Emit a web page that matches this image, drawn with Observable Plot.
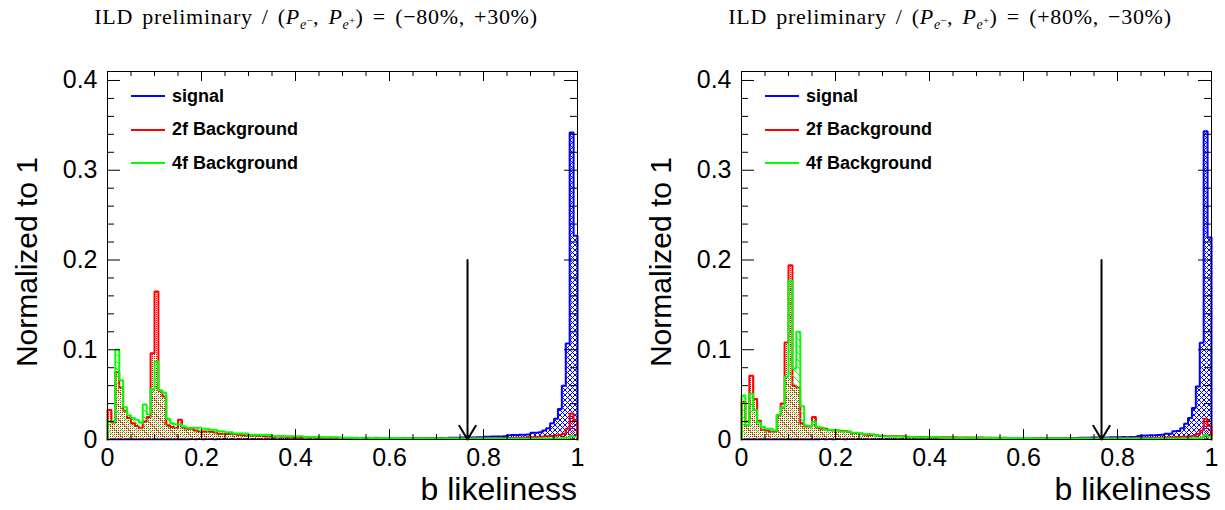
<!DOCTYPE html>
<html><head><meta charset="utf-8">
<script src="https://cdn.jsdelivr.net/npm/d3@7"></script>
<script src="https://cdn.jsdelivr.net/npm/@observablehq/plot@0.6"></script>
<style>
html,body{margin:0;padding:0;background:#fff;overflow:hidden}
#root{position:relative;width:1225px;height:510px;font-family:"Liberation Sans",Arial,sans-serif;color:#000}
.panel{position:absolute;top:0}
.title{position:absolute;top:4px;font-family:"Liberation Serif",serif;font-size:22px;letter-spacing:0.7px;word-spacing:3px;white-space:nowrap;transform:translateX(-50%)}
.title sub{font-size:14px;vertical-align:-5px;letter-spacing:0.3px}
.title sup{font-size:11px;vertical-align:5px}
.xlab{position:absolute;font-size:32px;white-space:nowrap;transform:translateX(-100%);top:471px}
.ylab{position:absolute;font-size:30px;white-space:nowrap;transform:translate(-50%,-50%) rotate(-90deg);top:262px}
.leg{position:absolute;display:flex;align-items:center;font-weight:bold;font-size:18px;white-space:nowrap;height:20px}
.leg span.sw{display:inline-block;width:34px;height:2px;margin-right:7px}
</style>
</head><body>
<svg width="0" height="0" style="position:absolute">
  <defs>
    <pattern id="pBlue" patternUnits="userSpaceOnUse" width="5" height="5">
      <path d="M0,0L5,5M5,0L0,5" stroke="#0000ff" stroke-width="1" fill="none"/>
    </pattern>
    <pattern id="pRed" patternUnits="userSpaceOnUse" width="2" height="2">
      <rect x="0" y="0" width="1" height="1" fill="#ff0000"/>
    </pattern>
    <pattern id="pGreen" patternUnits="userSpaceOnUse" width="7" height="7">
      <path d="M0,0L7,7M-1,6L1,8M6,-1L8,1" stroke="#00ff00" stroke-width="1" fill="none"/>
    </pattern>
  </defs>
</svg>
<div id="root"></div>
<script>
// ---------------- data ----------------
const nBins = 120;              // histogram bins on [0, 1]
const xTickLabels = [0, 0.2, 0.4, 0.6, 0.8, 1];
const xMinorTicks = [0.05,0.1,0.15,0.25,0.3,0.35,0.45,0.5,0.55,0.65,0.7,0.75,0.85,0.9,0.95];
const yTickLabels = [0, 0.1, 0.2, 0.3, 0.4];
const yMinorTicks = [0.02,0.04,0.06,0.08,0.12,0.14,0.16,0.18,0.22,0.24,0.26,0.28,0.32,0.34,0.36,0.38];
const seriesNames = ["signal", "2f Background", "4f Background"];
const seriesColors = ["#0000ff", "#ff0000", "#00ff00"];
const panelTitles = ["(\u221280%, +30%)", "(+80%, \u221230%)"];
const cutValue = [0.766, 0.766];
const arrowTop = 0.2;

// left panel (P = -80%, +30%)
const signalL = [
0.0004,0.0003,0.0004,0.0004,0.0003,0.0004,0.0004,0.0003,0.0004,0.0004,
0.0003,0.0004,0.0004,0.0003,0.0004,0.0004,0.0004,0.0003,0.0004,0.0004,
0.0004,0.0005,0.0004,0.0005,0.0004,0.0005,0.0005,0.0004,0.0005,0.0005,
0.0005,0.0005,0.0006,0.0005,0.0005,0.0006,0.0005,0.0006,0.0006,0.0005,
0.0006,0.0006,0.0007,0.0006,0.0006,0.0007,0.0007,0.0006,0.0007,0.0007,
0.0007,0.0008,0.0007,0.0008,0.0008,0.0008,0.0009,0.0008,0.0009,0.0009,
0.0009,0.0010,0.0009,0.0010,0.0010,0.0011,0.0010,0.0011,0.0011,0.0012,
0.0011,0.0012,0.0012,0.0013,0.0012,0.0013,0.0013,0.0014,0.0014,0.0015,
0.0015,0.0016,0.0016,0.0017,0.0017,0.0018,0.0018,0.0019,0.0019,0.0020,
0.0021,0.0021,0.0022,0.0023,0.0024,0.0025,0.0031,0.0032,0.0033,0.0033,
0.0034,0.0036,0.0048,0.0050,0.0050,0.0052,0.0053,0.0055,0.0074,0.0076,
0.0080,0.0100,0.0126,0.0180,0.0230,0.0340,0.0600,0.1070,0.3420,0.2270];
const bkg2fL = [
0.033,0.019,0.075,0.058,0.032,0.024,0.018,0.015,0.013,0.020,
0.025,0.096,0.165,0.054,0.048,0.016,0.014,0.013,0.022,0.013,
0.012,0.012,0.010,0.009,0.009,0.0088,0.0085,0.0078,0.0065,0.0063,
0.0062,0.0060,0.0058,0.0050,0.0046,0.0045,0.0044,0.0043,0.0042,0.0038,
0.0034,0.0033,0.0032,0.0033,0.0031,0.0030,0.0030,0.0029,0.0024,0.0023,
0.0022,0.0022,0.0021,0.0022,0.0021,0.0020,0.0020,0.0019,0.0020,0.0019,
0.0018,0.0018,0.0017,0.0018,0.0017,0.0016,0.0016,0.0016,0.0015,0.0015,
0.0015,0.0014,0.0014,0.0014,0.0013,0.0013,0.0013,0.0012,0.0012,0.0012,
0.0011,0.0011,0.0011,0.0010,0.0010,0.0010,0.0010,0.0010,0.0011,0.0011,
0.0011,0.0012,0.0012,0.0012,0.0013,0.0013,0.0014,0.0014,0.0015,0.0015,
0.0016,0.0016,0.0017,0.0018,0.0019,0.0020,0.0022,0.0024,0.0026,0.0028,
0.0030,0.0033,0.0036,0.0040,0.0045,0.0050,0.0065,0.0120,0.0290,0.0210];
const bkg4fL = [
0.020,0.020,0.100,0.066,0.036,0.027,0.024,0.022,0.019,0.039,
0.028,0.056,0.087,0.055,0.052,0.023,0.018,0.017,0.017,0.0145,
0.013,0.013,0.013,0.013,0.012,0.012,0.011,0.011,0.0093,0.0093,
0.008,0.008,0.0067,0.0067,0.0067,0.0066,0.0052,0.0052,0.0053,0.0051,
0.0052,0.0050,0.0037,0.0037,0.0038,0.0036,0.0037,0.0036,0.0035,0.0036,
0.0026,0.0027,0.0026,0.0025,0.0026,0.0026,0.0025,0.0026,0.0025,0.0019,
0.0019,0.0020,0.0019,0.0019,0.0018,0.0019,0.0019,0.0018,0.0019,0.0018,
0.0018,0.0018,0.0017,0.0016,0.0016,0.0015,0.0016,0.0015,0.0015,0.0014,
0.0014,0.0014,0.0013,0.0013,0.0013,0.0012,0.0013,0.0012,0.0012,0.0012,
0.0012,0.0011,0.0012,0.0011,0.0011,0.0011,0.0011,0.0010,0.0011,0.0010,
0.0010,0.0010,0.0010,0.0009,0.0010,0.0009,0.0010,0.0009,0.0010,0.0010,
0.0010,0.0011,0.0011,0.0012,0.0013,0.0014,0.0016,0.0020,0.0040,0.0030];

// right panel (P = +80%, -30%)
const signalR = [
0.0004,0.0003,0.0004,0.0004,0.0004,0.0003,0.0004,0.0004,0.0003,0.0004,
0.0004,0.0003,0.0004,0.0004,0.0004,0.0003,0.0004,0.0004,0.0004,0.0004,
0.0005,0.0004,0.0005,0.0004,0.0005,0.0005,0.0004,0.0005,0.0005,0.0005,
0.0005,0.0006,0.0005,0.0005,0.0006,0.0005,0.0006,0.0006,0.0006,0.0005,
0.0006,0.0007,0.0006,0.0006,0.0007,0.0007,0.0007,0.0006,0.0007,0.0008,
0.0007,0.0008,0.0008,0.0008,0.0009,0.0008,0.0009,0.0009,0.0009,0.0010,
0.0009,0.0010,0.0010,0.0010,0.0011,0.0011,0.0011,0.0012,0.0011,0.0012,
0.0012,0.0013,0.0012,0.0013,0.0013,0.0014,0.0014,0.0014,0.0015,0.0015,
0.0016,0.0016,0.0017,0.0017,0.0018,0.0018,0.0019,0.0019,0.0020,0.0021,
0.0021,0.0022,0.0022,0.0023,0.0024,0.0026,0.0026,0.0027,0.0026,0.0027,
0.0028,0.0040,0.0045,0.0045,0.0046,0.0048,0.0050,0.0052,0.0063,0.0064,
0.0093,0.0095,0.0126,0.0175,0.0240,0.0350,0.0590,0.1077,0.3435,0.2250];
const bkg2fR = [
0.042,0.020,0.071,0.045,0.021,0.011,0.010,0.009,0.009,0.027,
0.040,0.108,0.194,0.060,0.058,0.018,0.0145,0.0145,0.025,0.013,
0.012,0.012,0.0105,0.010,0.010,0.0098,0.0095,0.0085,0.0072,0.0070,
0.0068,0.0052,0.0050,0.0049,0.0048,0.0040,0.0038,0.0037,0.0037,0.0036,
0.0036,0.0035,0.0030,0.0029,0.0028,0.0028,0.0027,0.0027,0.0026,0.0026,
0.0026,0.0025,0.0025,0.0024,0.0024,0.0023,0.0023,0.0022,0.0022,0.0021,
0.0021,0.0021,0.0020,0.0020,0.0020,0.0019,0.0019,0.0019,0.0018,0.0018,
0.0018,0.0017,0.0017,0.0016,0.0016,0.0016,0.0015,0.0015,0.0015,0.0014,
0.0014,0.0014,0.0013,0.0013,0.0013,0.0012,0.0012,0.0012,0.0012,0.0012,
0.0012,0.0012,0.0012,0.0013,0.0013,0.0013,0.0014,0.0014,0.0015,0.0015,
0.0016,0.0016,0.0017,0.0017,0.0018,0.0019,0.0020,0.0021,0.0022,0.0024,
0.0026,0.0028,0.0030,0.0032,0.0036,0.0042,0.0060,0.0100,0.0230,0.0150];
const bkg4fR = [
0.049,0.016,0.051,0.033,0.019,0.014,0.012,0.012,0.010,0.0275,
0.036,0.070,0.177,0.079,0.120,0.037,0.0156,0.015,0.020,0.014,
0.0135,0.011,0.011,0.011,0.0105,0.009,0.009,0.0088,0.0074,0.0074,
0.0060,0.0060,0.0061,0.0059,0.0045,0.0045,0.0034,0.0033,0.0033,0.0034,
0.0033,0.0032,0.0026,0.0027,0.0026,0.0026,0.0025,0.0026,0.0026,0.0025,
0.0026,0.0019,0.0019,0.0020,0.0019,0.0019,0.0018,0.0019,0.0019,0.0018,
0.0019,0.0018,0.0018,0.0019,0.0018,0.0018,0.0017,0.0018,0.0017,0.0017,
0.0017,0.0017,0.0016,0.0016,0.0015,0.0015,0.0015,0.0014,0.0014,0.0014,
0.0013,0.0013,0.0013,0.0013,0.0012,0.0012,0.0012,0.0012,0.0011,0.0011,
0.0011,0.0011,0.0011,0.0010,0.0010,0.0010,0.0010,0.0010,0.0010,0.0010,
0.0010,0.0010,0.0009,0.0010,0.0009,0.0010,0.0010,0.0010,0.0010,0.0011,
0.0011,0.0011,0.0012,0.0012,0.0013,0.0014,0.0016,0.0020,0.0050,0.0030];

// ---------------- drawing ----------------
const edge = i => i / nBins;
const barsOf = v => v.map((y, i) => ({x1: edge(i), x2: edge(i + 1), y}));
function stepsOf(v) {
  const p = [{x: 0, y: 0}];
  v.forEach((y, i) => { p.push({x: edge(i), y}, {x: edge(i + 1), y}); });
  p.push({x: 1, y: 0});
  return p;
}
const patterns = ["url(#pBlue)", "url(#pRed)", "url(#pGreen)"];

function panel(series, cut, left, width, marginRight, titleRHS) {
  const H = 510, mT = 71, mB = 71, mL = 107;
  const plotH = H - mT - mB, plotW = width - mL - marginRight;
  const marks = [];
  series.forEach((v, s) => {
    marks.push(Plot.rectY(barsOf(v), {x1: "x1", x2: "x2", y: "y", fill: patterns[s], shapeRendering: "crispEdges"}));
    marks.push(Plot.line(stepsOf(v), {x: "x", y: "y", stroke: seriesColors[s], strokeWidth: 2, strokeLinejoin: "miter"}));
  });
  marks.push(Plot.arrow([{x: cut, top: arrowTop, bottom: 0}], {x1: "x", x2: "x", y1: "top", y2: "bottom", stroke: "black", strokeWidth: 2, headLength: 12, headAngle: 62}));
  // inward ticks on all four sides
  marks.push(Plot.tickX(xTickLabels, {x: d => d, insetTop: plotH - 10, stroke: "black"}));
  marks.push(Plot.tickX(xTickLabels, {x: d => d, insetBottom: plotH - 10, stroke: "black"}));
  marks.push(Plot.tickX(xMinorTicks, {x: d => d, insetTop: plotH - 5, stroke: "black"}));
  marks.push(Plot.tickX(xMinorTicks, {x: d => d, insetBottom: plotH - 5, stroke: "black"}));
  marks.push(Plot.tickY(yTickLabels, {y: d => d, insetRight: plotW - 13, stroke: "black"}));
  marks.push(Plot.tickY(yTickLabels, {y: d => d, insetLeft: plotW - 13, stroke: "black"}));
  marks.push(Plot.tickY(yMinorTicks, {y: d => d, insetRight: plotW - 7, stroke: "black"}));
  marks.push(Plot.tickY(yMinorTicks, {y: d => d, insetLeft: plotW - 7, stroke: "black"}));
  marks.push(Plot.frame({stroke: "black", strokeWidth: 1}));
  marks.push(Plot.axisX({ticks: xTickLabels, tickSize: 0, tickPadding: 9, tickFormat: d => String(d), fontSize: 25, label: null}));
  marks.push(Plot.axisY({ticks: yTickLabels, tickSize: 0, tickPadding: 10, tickFormat: d => String(d), fontSize: 25, label: null}));

  const svg = Plot.plot({
    width, height: H, marginTop: mT, marginBottom: mB, marginLeft: mL, marginRight,
    x: {domain: [0, 1]}, y: {domain: [0, 0.41]},
    style: {fontFamily: "'Liberation Sans', Arial, sans-serif", color: "black", background: "white", overflow: "visible"},
    marks
  });
  svg.classList.add("panel");
  svg.style.left = left + "px";
  const root = document.getElementById("root");
  root.appendChild(svg);

  const t = document.createElement("div");
  t.className = "title";
  t.style.left = (left + 316) + "px";
  t.innerHTML = "ILD preliminary / (<i>P</i><sub><i>e</i><sup>\u2212</sup></sub>, <i>P</i><sub><i>e</i><sup>+</sup></sub>) = " + titleRHS;
  root.appendChild(t);

  const xl = document.createElement("div");
  xl.className = "xlab"; xl.textContent = "b likeliness";
  xl.style.left = (left + width - marginRight) + "px";
  root.appendChild(xl);

  const yl = document.createElement("div");
  yl.className = "ylab"; yl.textContent = "Normalized to 1";
  yl.style.left = (left + 27) + "px";
  root.appendChild(yl);

  seriesNames.forEach((name, s) => {
    const d = document.createElement("div");
    d.className = "leg";
    d.style.left = (left + 131) + "px";
    d.style.top = (86 + s * 33.5) + "px";
    d.innerHTML = `<span class="sw" style="background:${seriesColors[s]}"></span>${name}`;
    root.appendChild(d);
  });
}

panel([signalL, bkg2fL, bkg4fL], cutValue[0], 0, 612, 35, panelTitles[0]);
panel([signalR, bkg2fR, bkg4fR], cutValue[1], 634, 591, 14, panelTitles[1]);
</script>
</body></html>
